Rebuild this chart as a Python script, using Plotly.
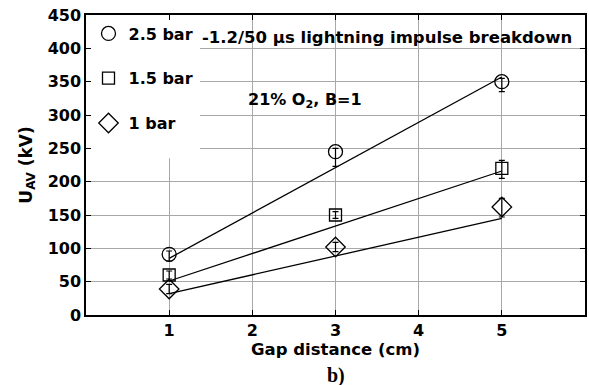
import plotly.graph_objects as go

# Measured breakdown voltages (kV) vs gap distance (cm)
gap = [1, 3, 5]
u_25bar = [91, 245, 350]
u_25bar_up = [5, 5, 5]
u_25bar_dn = [10, 22, 15]
u_15bar = [60, 150, 220]
u_15bar_up = [6, 5, 12]
u_15bar_dn = [6, 5, 15]
u_1bar = [39, 102, 162]
u_1bar_up = [7, 7, 13]
u_1bar_dn = [7, 7, 15]

# Fitted straight lines (endpoints at 1 cm and 5 cm)
fit_gap = [1, 5]
fit_25bar = [85, 357]
fit_15bar = [51, 216]
fit_1bar = [32, 145]

x_ticks = [1, 2, 3, 4, 5]
y_ticks = list(range(0, 451, 50))

FONT = "DejaVu Sans, Verdana, sans-serif"

fig = go.Figure()

for fy in (fit_25bar, fit_15bar, fit_1bar):
    fig.add_trace(go.Scatter(x=fit_gap, y=fy, mode="lines",
                             line=dict(color="black", width=1.3),
                             showlegend=False, hoverinfo="skip"))

series = [
    ("2.5 bar", u_25bar, u_25bar_up, u_25bar_dn, "circle-open", 14),
    ("1.5 bar", u_15bar, u_15bar_up, u_15bar_dn, "square-open", 12),
    ("1 bar", u_1bar, u_1bar_up, u_1bar_dn, "diamond-open", 15),
]
for i, (name, y, up, dn, sym, sz) in enumerate(series):
    fig.add_trace(go.Scatter(
        x=gap, y=y, mode="markers", name=name, legendgroup=f"g{i}",
        marker=dict(symbol=sym, size=sz, color="black", line=dict(width=1.3, color="black")),
        error_y=dict(type="data", symmetric=False, array=up, arrayminus=dn,
                     color="black", thickness=1.2, width=3),
    ))

# white panel behind the legend, above the grid
fig.add_shape(type="rect", xref="x", yref="y", x0=0, x1=1.37, y0=235, y1=450,
              fillcolor="white", line=dict(width=0), layer="between")

fig.add_annotation(text="-1.2/50 \u03bcs lightning impulse breakdown",
                   xref="paper", yref="paper", x=0.977, y=0.925, xanchor="right", yanchor="middle",
                   showarrow=False, font=dict(family=FONT, size=16.5, color="black", weight="bold"))
fig.add_annotation(text="21% O<sub>2</sub>, B=1",
                   xref="paper", yref="paper", x=0.32, y=0.715, xanchor="left", yanchor="middle",
                   showarrow=False, font=dict(family=FONT, size=16, color="black", weight="bold"))
fig.add_annotation(text="b)", xref="paper", yref="paper", x=0.5, y=-0.2, xanchor="center", yanchor="middle",
                   showarrow=False, font=dict(family="Liberation Serif, Times New Roman, serif", size=20,
                                              color="black", weight="bold"))

axis_common = dict(showline=True, linecolor="black", linewidth=1.5, mirror="ticks",
                   ticks="inside", ticklen=5, tickwidth=1, tickcolor="black",
                   showgrid=True, gridcolor="#a8a8a8", gridwidth=1, zeroline=False,
                   tickfont=dict(family=FONT, size=16, color="black", weight="bold"))

fig.update_xaxes(range=[0, 6], tickvals=x_ticks, ticktext=[str(v) for v in x_ticks],
                 title=dict(text="Gap distance (cm)", standoff=0,
                            font=dict(family=FONT, size=16.5, color="black", weight="bold")),
                 **axis_common)
fig.update_yaxes(range=[0, 450], tickvals=y_ticks,
                 title=dict(text="U<sub>AV</sub> (kV)", standoff=11,
                            font=dict(family=FONT, size=17, color="black", weight="bold")),
                 **axis_common)

fig.update_layout(
    width=589, height=385,
    margin=dict(l=86, r=2, t=15, b=70),
    plot_bgcolor="white", paper_bgcolor="white",
    legend=dict(x=0.005, y=0.995, xanchor="left", yanchor="top", bgcolor="rgba(0,0,0,0)",
                tracegroupgap=21, font=dict(family=FONT, size=16, color="black", weight="bold")),
)

fig.write_html("out.html")
